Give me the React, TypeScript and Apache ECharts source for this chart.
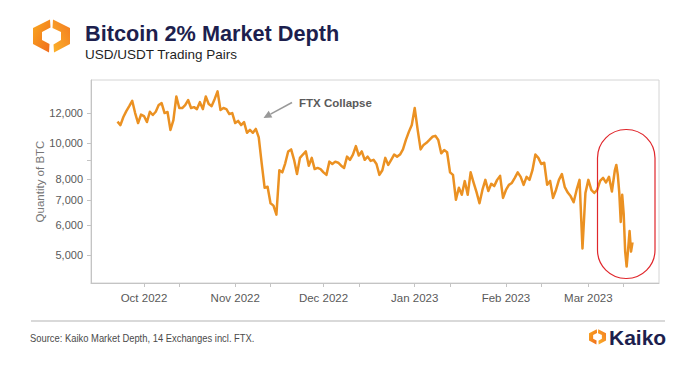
import React, { useEffect, useRef } from 'react';
import * as echarts from 'echarts';

// Daily 2% market depth (BTC), USD/USDT pairs, starting 2022-09-22
const startDate = '2022-09-22';
const dailyDepth = [
  11400, 11160, 11730, 12170, 12550, 12970, 12020, 11300, 11910,
  11800, 11370, 12120, 11880, 12120, 12630, 12780, 12020, 12100, 10830,
  11510, 13320, 12400, 12400, 12630, 13030, 12400, 12470, 12320, 12860,
  12320, 13320, 12710, 12550, 13100, 13750, 12250, 12400, 12320, 11950,
  12020, 11300, 11450, 11160, 11370, 10640, 10830, 10640, 10900, 10340,
  8810, 7570, 7620, 6880, 6780, 6410, 8440, 8330, 8810, 9480,
  9600, 9000, 8240, 9110, 9300, 9480, 8680, 9110, 8500, 8560,
  8500, 8330, 8200, 8900, 8770, 8900, 8840, 8680, 8560, 9180,
  9000, 9300, 9800, 9240, 9480, 9000, 9180, 8940, 9000, 8770,
  8200, 8440, 9110, 8720, 9000, 9300, 9180, 9300, 9600, 10180,
  10700, 11160, 12400, 10830, 9600, 9870, 10000, 10180, 10380, 10440,
  10180, 9370, 9560, 9430, 8330, 8200, 7030, 7570, 7250, 7890,
  7250, 8330, 7820, 7370, 6880, 7470, 7950, 7420, 7760, 7650,
  7950, 8150, 7110, 7470, 7710, 7800, 8050, 8330, 8100, 7710,
  8100, 7950, 8440, 9300, 9110, 8770, 8840, 7710, 7900, 7110,
  7470, 7950, 8240, 7600, 7350, 7180, 6920, 7470, 7950, 5200,
  7330, 7950, 7470, 7330, 7470, 7900, 8050, 7820, 8100, 7400,
];
// Twelve-hourly values for the final week, starting 2023-03-10
const lateStart = '2023-03-10';
const lateDepth = [8440, 8720, 8200, 7350, 6130, 7250, 6440, 5110, 4650, 5160, 5790, 5100, 5400];

const xMin = '2022-09-13';
const xMax = '2023-03-25';
const monthLabels = ['2022-10-01', '2022-11-01', '2022-12-01', '2023-01-01', '2023-02-01', '2023-03-01'];
const midMonthTicks = ['2022-10-13', '2022-11-13', '2022-12-13', '2023-01-13', '2023-02-13', '2023-03-13'];
const yMin = 4200;
const yMax = 14750;
const yLabelValues = [5000, 6000, 7000, 8000, 10000, 12000];
const yTickValues = [5000, 6000, 7000, 8000, 9000, 10000, 12000];
const monthNames = ['Jan', 'Feb', 'Mar', 'Apr', 'May', 'Jun', 'Jul', 'Aug', 'Sep', 'Oct', 'Nov', 'Dec'];

const DAY = 86400000;
const ts = (s: string) => Date.parse(s + 'T00:00:00Z');
const lg = (v: number) => Math.log10(v);

const FONT = "'Liberation Sans', Arial, Helvetica, sans-serif";

function logoPieces(ox: number, oy: number, s: number, z: number) {
  const left = [[17, 0.5], [0, 9], [0, 25], [16, 33.5], [16.5, 25], [9, 21], [9, 13], [17.5, 8.5]];
  const right = [[20, 0.5], [37, 9], [37, 25], [21, 33.5], [20.5, 25.5], [28, 21], [28, 13], [19.5, 9]];
  return [
    {
      type: 'polygon', x: ox, y: oy, scaleX: s, scaleY: s, z,
      shape: { points: left },
      style: {
        fill: new echarts.graphic.LinearGradient(0, 0, 1, 1, [
          { offset: 0, color: '#F9A91F' },
          { offset: 1, color: '#F06A1E' },
        ]),
      },
    },
    {
      type: 'polygon', x: ox, y: oy, scaleX: s, scaleY: s, z,
      shape: { points: right },
      style: {
        fill: new echarts.graphic.LinearGradient(1, 0, 0, 1, [
          { offset: 0, color: '#F37A20' },
          { offset: 1, color: '#FBB32A' },
        ]),
      },
    },
  ];
}

export default function App() {
  const ref = useRef<HTMLDivElement>(null);

  useEffect(() => {
    document.body.style.margin = '0';
    if (!ref.current) return;
    const chart = echarts.init(ref.current, undefined, { renderer: 'svg' });

    const t0 = ts(startDate);
    const t1 = ts(lateStart);
    const data = [
      ...dailyDepth.map((v, i) => [t0 + i * DAY, lg(v)]),
      ...lateDepth.map((v, i) => [t1 + i * DAY / 2, lg(v)]),
    ];

    // arrow geometry for the annotation
    const tip = [263.5, 118];
    const tail = [292, 102.5];
    const dx = tail[0] - tip[0];
    const dy = tail[1] - tip[1];
    const len = Math.sqrt(dx * dx + dy * dy);
    const ux = dx / len, uy = dy / len;
    const hb = [tip[0] + ux * 8, tip[1] + uy * 8];
    const px = -uy * 3.8, py = ux * 3.8;

    const option: any = {
      animation: false,
      backgroundColor: '#ffffff',
      grid: {
        left: 91, top: 80, width: 568, height: 203,
        show: true, borderColor: '#d4d4d4', borderWidth: 1, backgroundColor: 'transparent',
      },
      xAxis: {
        type: 'value',
        min: ts(xMin),
        max: ts(xMax),
        axisLine: { show: true, lineStyle: { color: '#c4c4c4', width: 1 } },
        axisTick: {
          show: true,
          length: 4,
          customValues: [...monthLabels, ...midMonthTicks].map(ts),
          lineStyle: { color: '#c4c4c4' },
        },
        axisLabel: {
          customValues: monthLabels.map(ts),
          formatter: (v: number) => {
            const d = new Date(v);
            return monthNames[d.getUTCMonth()] + ' ' + d.getUTCFullYear();
          },
          color: '#595959',
          fontSize: 11.5,
          fontFamily: FONT,
          margin: 9,
        },
        splitLine: { show: false },
      },
      yAxis: {
        type: 'value',
        min: lg(yMin),
        max: lg(yMax),
        name: 'Quantity of BTC',
        nameLocation: 'middle',
        nameGap: 45,
        nameMoveOverlap: false,
        nameTextStyle: { color: '#767676', fontSize: 11.5, fontFamily: FONT },
        axisLine: { show: true, lineStyle: { color: '#c4c4c4', width: 1 } },
        axisTick: {
          show: true,
          length: 4,
          customValues: yTickValues.map(lg),
          lineStyle: { color: '#c4c4c4' },
        },
        axisLabel: {
          customValues: yLabelValues.map(lg),
          formatter: (v: number) => (Math.round(Math.pow(10, v) / 100) * 100).toLocaleString('en-US'),
          color: '#595959',
          fontSize: 11,
          fontFamily: FONT,
          margin: 8,
        },
        splitLine: { show: false },
      },
      series: [
        {
          type: 'line',
          data,
          showSymbol: false,
          symbol: 'none',
          lineStyle: { color: '#EB9122', width: 2.5, join: 'round' },
          z: 3,
        },
      ],
      graphic: [
        ...logoPieces(33, 19, 1, 10),
        {
          type: 'text', x: 85, y: 33, z: 10,
          style: {
            text: 'Bitcoin 2% Market Depth', fill: '#1d1f4e',
            font: `bold 21.7px ${FONT}`, verticalAlign: 'middle', align: 'left',
          },
        },
        {
          type: 'text', x: 85, y: 54, z: 10,
          style: {
            text: 'USD/USDT Trading Pairs', fill: '#1f1f1f',
            font: `13.5px ${FONT}`, verticalAlign: 'middle', align: 'left',
          },
        },
        {
          type: 'text', x: 299, y: 102.5, z: 10,
          style: {
            text: 'FTX Collapse', fill: '#5a5a5a',
            font: `bold 11.5px ${FONT}`, verticalAlign: 'middle', align: 'left',
          },
        },
        {
          type: 'line', z: 10,
          shape: { x1: tail[0], y1: tail[1], x2: hb[0], y2: hb[1] },
          style: { stroke: '#999999', lineWidth: 1.5 },
        },
        {
          type: 'polygon', z: 10,
          shape: { points: [tip, [hb[0] + px, hb[1] + py], [hb[0] - px, hb[1] - py]] },
          style: { fill: '#999999' },
        },
        {
          type: 'rect', z: 10,
          shape: { x: 597.5, y: 129.5, width: 57.5, height: 149, r: 28.5 },
          style: { fill: 'none', stroke: '#E0262B', lineWidth: 1.2 },
        },
        {
          type: 'line', z: 10,
          shape: { x1: 31, y1: 321, x2: 665, y2: 321 },
          style: { stroke: '#cccccc', lineWidth: 1.5 },
        },
        {
          type: 'text', x: 30, y: 338, z: 10, scaleX: 0.855,
          style: {
            text: 'Source: Kaiko Market Depth, 14 Exchanges incl. FTX.', fill: '#4a4a4a',
            font: `11px ${FONT}`, verticalAlign: 'middle', align: 'left',
          },
        },
        ...logoPieces(589, 329, 0.46, 10),
        {
          type: 'text', x: 609, y: 337, z: 10,
          style: {
            text: 'Kaiko', fill: '#1d1f4e',
            font: `bold 21px ${FONT}`, verticalAlign: 'middle', align: 'left',
          },
        },
      ],
    };

    chart.setOption(option);
    return () => chart.dispose();
  }, []);

  return <div ref={ref} style={{ width: 679, height: 376 }} />;
}
